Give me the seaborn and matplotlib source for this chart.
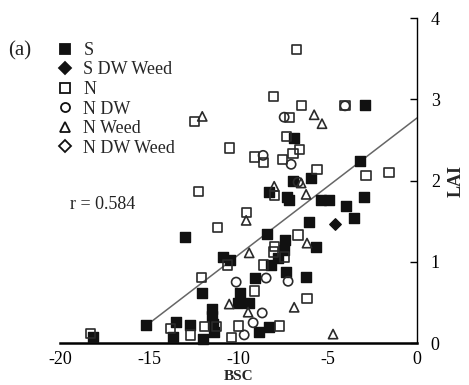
import numpy as np
import pandas as pd
import matplotlib
matplotlib.use("Agg")
import matplotlib.pyplot as plt
from matplotlib.lines import Line2D
import seaborn as sns

# BSC (x) and LAI (y) values per treatment
s_x = [-15.17, -12.98, -10.86, -10.46, -12.03, -13.49, -12.70, -13.65, -11.98, -11.47,
       -11.47, -11.42, -11.36, -18.13, -10.02, -9.40, -9.90, -9.07, -8.84, -8.28,
       -8.17, -7.78, -7.44, -7.39, -8.39, -7.33, -6.21, -5.65, -6.04, -3.97,
       -3.53, -2.97, -5.37, -4.92, -7.27, -7.16, -8.28, -6.94, -5.93, -3.19,
       -6.88, -2.91]
s_y = [0.22, 1.30, 1.06, 1.02, 0.62, 0.26, 0.22, 0.07, 0.05, 0.42,
       0.33, 0.23, 0.14, 0.07, 0.49, 0.49, 0.62, 0.80, 0.14, 0.20,
       0.96, 1.05, 1.14, 1.27, 1.34, 0.87, 0.81, 1.18, 1.49, 1.69,
       1.54, 1.80, 1.76, 1.76, 1.80, 1.76, 1.86, 1.99, 2.03, 2.24,
       2.52, 2.93]

s_dw_weed_x = [-4.59]
s_dw_weed_y = [1.46]

n_x = [-18.30, -13.82, -12.70, -11.92, -11.25, -10.41, -10.02, -7.72, -9.12, -6.16,
       -8.62, -10.63, -12.09, -7.44, -8.00, -8.06, -6.66, -11.19, -9.57, -12.26,
       -8.00, -5.60, -2.85, -1.57, -9.12, -8.62, -7.55, -6.94, -6.60, -7.33,
       -10.52, -12.48, -7.16, -6.49, -4.03, -8.06, -6.77]
n_y = [0.12, 0.18, 0.10, 0.20, 0.20, 0.07, 0.21, 0.21, 0.64, 0.55,
       0.96, 0.96, 0.81, 1.06, 1.19, 1.12, 1.33, 1.42, 1.61, 1.87,
       1.82, 2.14, 2.06, 2.10, 2.29, 2.22, 2.26, 2.33, 2.38, 2.54,
       2.40, 2.73, 2.78, 2.92, 2.92, 3.03, 3.61]

n_dw_x = [-10.13, -8.45, -7.22, -8.67, -9.18, -9.68, -7.05, -6.66, -8.62, -7.44, -4.03]
n_dw_y = [0.75, 0.80, 0.76, 0.37, 0.25, 0.10, 2.20, 1.98, 2.31, 2.78, 2.92]

n_weed_x = [-10.52, -9.46, -6.88, -4.70, -9.40, -6.16, -6.21, -8.00, -9.57, -12.03,
            -5.76, -5.32, -6.49]
n_weed_y = [0.48, 0.38, 0.44, 0.11, 1.11, 1.23, 1.83, 1.93, 1.51, 2.79,
            2.81, 2.70, 1.97]

n_dw_weed_x = []
n_dw_weed_y = []

# regression line end points
fit_x = [-15.2, 0.0]
fit_y = [0.21, 2.77]

r_text = "r = 0.584"
x_ticks = [-20, -15, -10, -5, 0]
y_ticks = [0, 1, 2, 3, 4]

groups = [
    ("S", s_x, s_y, "s", True),
    ("S DW Weed", s_dw_weed_x, s_dw_weed_y, "D", True),
    ("N", n_x, n_y, "s", False),
    ("N DW", n_dw_x, n_dw_y, "o", False),
    ("N Weed", n_weed_x, n_weed_y, "^", False),
    ("N DW Weed", n_dw_weed_x, n_dw_weed_y, "D", False),
]

sns.set_style("white")
plt.rcParams['font.family'] = ['Liberation Serif', 'DejaVu Serif']

fig = plt.figure(figsize=(4.69, 3.85), dpi=100)
ax = fig.add_axes([0.128, 0.109, 0.761, 0.844])

for name, gx, gy, mk, filled in groups:
    if len(gx) == 0:
        continue
    df = pd.DataFrame({"BSC": gx, "LAI": gy})
    size = 44 if mk != "D" else 34
    if filled:
        sns.scatterplot(data=df, x="BSC", y="LAI", marker=mk, s=size, color="#111111",
                        edgecolor="#111111", linewidth=1.0, ax=ax, clip_on=False, zorder=3)
    else:
        sns.scatterplot(data=df, x="BSC", y="LAI", marker=mk, s=size, facecolors="none",
                        edgecolor="#2a2a2a", linewidth=1.2, ax=ax, clip_on=False, zorder=3)

sns.lineplot(x=fit_x, y=fit_y, color="#666666", linewidth=1.1, ax=ax, zorder=2)

ax.set_xlim(-20, 0)
ax.set_ylim(0, 4)
ax.set_xticks(x_ticks)
ax.set_yticks(y_ticks)
ax.set_xticklabels([str(t) for t in x_ticks], fontsize=13)
ax.set_yticklabels([str(t) for t in y_ticks], fontsize=13)

ax.spines["left"].set_visible(False)
ax.spines["top"].set_visible(False)
ax.spines["bottom"].set_linewidth(1.8)
ax.spines["right"].set_linewidth(1.0)
ax.spines["bottom"].set_color("black")
ax.spines["right"].set_color("black")

ax.yaxis.tick_right()
ax.yaxis.set_label_position("right")
ax.tick_params(axis="x", direction="in", length=4, width=1, colors="black", pad=6)
ax.tick_params(axis="y", direction="in", length=5, width=1, colors="black", pad=10)
ax.tick_params(which="both", left=False, top=False)

ax.set_xlabel("BSC", fontsize=11, fontweight="bold")
ax.set_ylabel("LAI", fontsize=13, fontweight="bold")
ax.xaxis.set_label_coords(0.5, -0.082)
ax.yaxis.set_label_coords(1.085, 0.5)
ax.grid(False)

ax.text(0.028, 0.425, r_text, transform=ax.transAxes, fontsize=13, color="#222222",
        va="center")
fig.text(0.017, 0.855, "(a)", fontsize=15, color="#222222")

handles = []
for name, gx, gy, mk, filled in groups:
    ms = 6.5 if mk != "D" else 6
    handles.append(Line2D([], [], linestyle="none", marker=mk, markersize=ms,
                          markerfacecolor="#111111" if filled else "none",
                          markeredgecolor="#111111", markeredgewidth=1.3, label=name))
fig.legend(handles=handles, loc="upper left", bbox_to_anchor=(0.124, 0.891),
           frameon=False, fontsize=13, handlelength=0.8, handletextpad=0.6,
           labelspacing=0.14, borderpad=0.0, borderaxespad=0.0)

fig.savefig("out.png", dpi=100)
